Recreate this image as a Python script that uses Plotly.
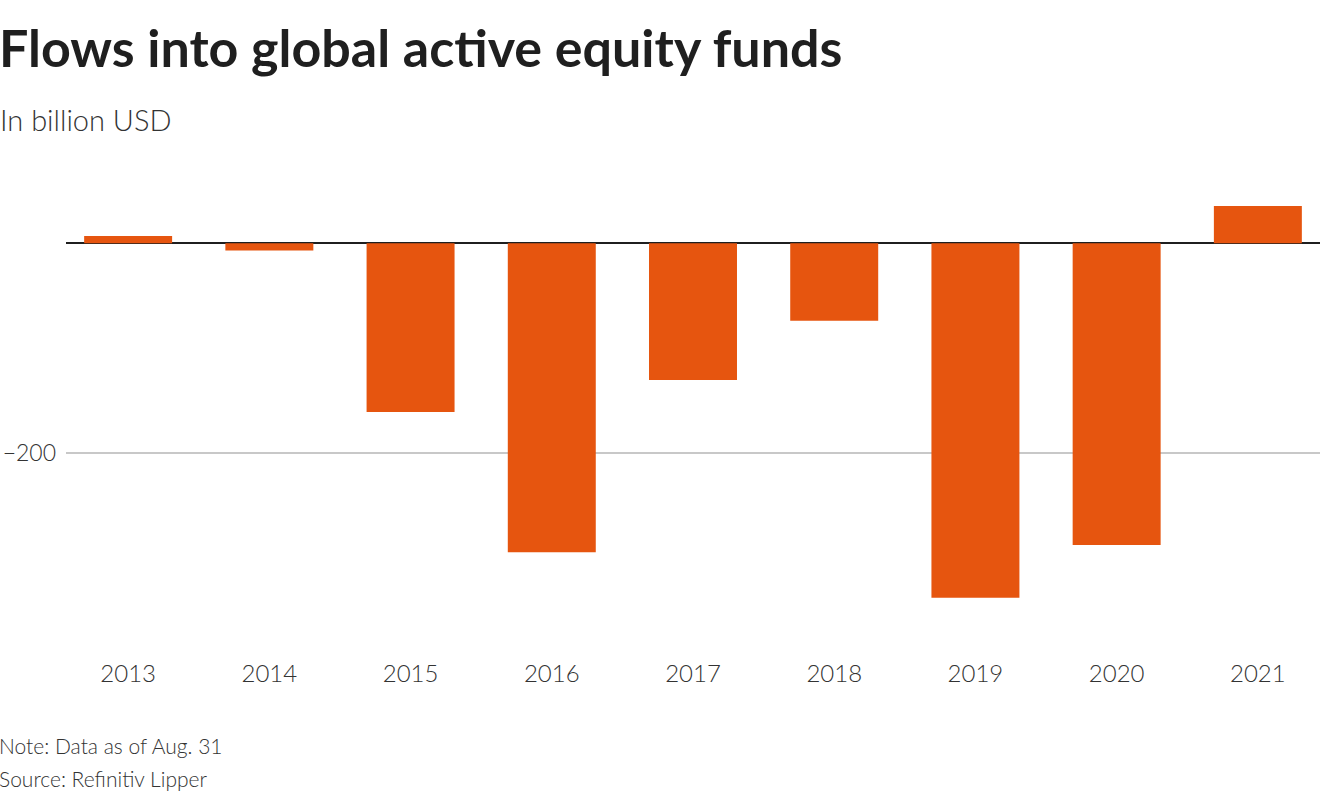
import plotly.graph_objects as go

years = ["2013", "2014", "2015", "2016", "2017", "2018", "2019", "2020", "2021"]
flows = [7, -7, -161, -295, -130.5, -74, -338.5, -288, 35.5]

title_text = "Flows into global active equity funds"
subtitle_text = "In billion USD"
note_text = "Note: Data as of Aug. 31"
source_text = "Source: Refinitiv Lipper"

W, H = 1320, 800
ml, mr, mt, mb = 66, 0, 195, 155

fig = go.Figure()
fig.add_trace(go.Bar(
    x=years, y=flows,
    marker=dict(color="#e6550f", line=dict(width=0)),
    hoverinfo="x+y",
))

fig.update_layout(
    width=W, height=H,
    margin=dict(l=ml, r=mr, t=mt, b=mb, pad=0),
    paper_bgcolor="white", plot_bgcolor="white",
    bargap=0.377,
    showlegend=False,
    font=dict(family="Lato", color="#333333"),
    xaxis=dict(
        type="category",
        range=[-0.44, 8.44],
        automargin=False,
        showgrid=False, showline=False, ticks="",
        tickfont=dict(size=24, color="#333333", family="Lato", weight=300),
        ticklabelstandoff=12,
    ),
    yaxis=dict(
        range=[-383.5, 46.1],
        tickvals=[-200],
        automargin=False,
        showgrid=True, gridcolor="#c8c8c8", gridwidth=1.5,
        zeroline=True, zerolinecolor="#1f1f1f", zerolinewidth=2,
        showline=False, ticks="",
        tickfont=dict(size=23, color="#333333", family="Lato", weight=300),
        ticklabelstandoff=9,
    ),
)

fig.add_annotation(
    text=title_text, xref="paper", yref="paper",
    x=0, y=1, xshift=-ml - 3, yshift=mt - 14,
    xanchor="left", yanchor="top", showarrow=False,
    font=dict(size=52, color="#1f1f1f", family="Lato", weight=700),
)
fig.add_annotation(
    text=subtitle_text, xref="paper", yref="paper",
    x=0, y=1, xshift=-ml - 2, yshift=mt - 100,
    xanchor="left", yanchor="top", showarrow=False,
    font=dict(size=29, color="#333333", family="Lato", weight=300),
)
fig.add_annotation(
    text=note_text, xref="paper", yref="paper",
    x=0, y=0, xshift=-ml - 3, yshift=-(745 - (H - mb)),
    xanchor="left", yanchor="middle", showarrow=False,
    font=dict(size=21, color="#333333", family="Lato", weight=300),
)
fig.add_annotation(
    text=source_text, xref="paper", yref="paper",
    x=0, y=0, xshift=-ml - 3, yshift=-(778 - (H - mb)),
    xanchor="left", yanchor="middle", showarrow=False,
    font=dict(size=21, color="#333333", family="Lato", weight=300),
)

fig.write_html(
    "out.html",
    config={"displayModeBar": False},
    post_script="document.body.style.margin='0';document.body.style.overflow='hidden';",
)
